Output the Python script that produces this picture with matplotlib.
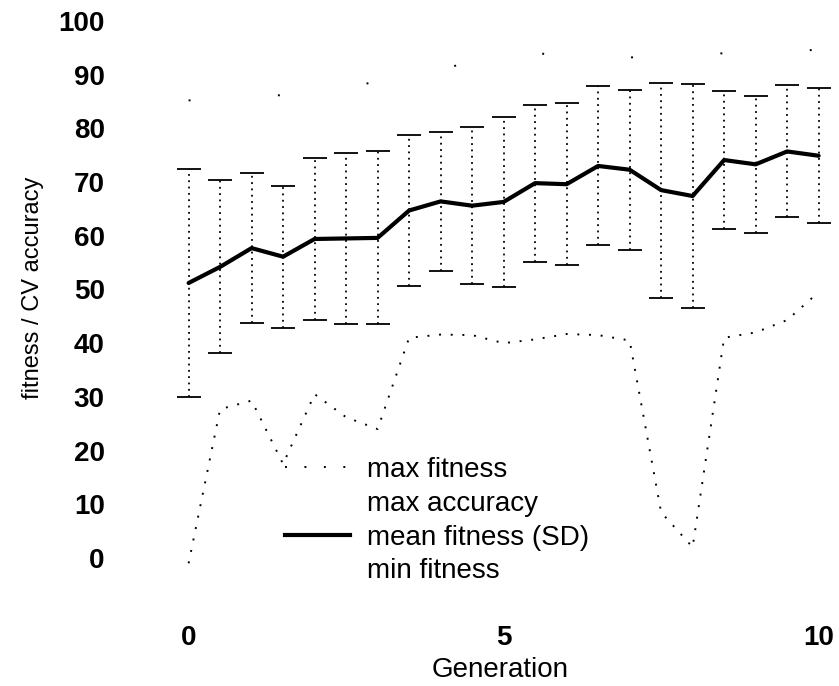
import matplotlib
matplotlib.use("Agg")
import matplotlib.pyplot as plt
from matplotlib.lines import Line2D

plt.rcParams['font.family'] = ['Liberation Sans', 'DejaVu Sans']

# generations (half-generation steps)
gen = [0, 0.5, 1, 1.5, 2, 2.5, 3, 3.5, 4, 4.5, 5,
       5.5, 6, 6.5, 7, 7.5, 8, 8.5, 9, 9.5, 10]

mean_fitness = [51.2, 54.2, 57.7, 56.1, 59.4, 59.5, 59.6, 64.7, 66.4, 65.6, 66.3,
                69.8, 69.6, 73.0, 72.3, 68.5, 67.4, 74.1, 73.3, 75.7, 74.9]
sd_fitness = [21.2, 16.1, 13.9, 13.2, 15.0, 16.0, 16.1, 14.1, 13.0, 14.6, 15.8,
              14.6, 15.1, 14.8, 14.9, 20.0, 20.8, 12.9, 12.8, 12.3, 12.6]
max_fitness = [85.2, 85.6, 85.9, 86.2, 86.8, 87.7, 88.7, 89.9, 91.1, 92.3, 93.6,
               94.2, 93.0, 92.8, 93.2, 93.5, 93.6, 94.0, 94.2, 94.5, 94.6]
min_fitness = [-1.0, 27.7, 29.3, 17.5, 30.5, 26.2, 24.0, 41.0, 41.6, 41.5, 40.0,
               40.7, 41.7, 41.5, 40.5, 8.5, 2.0, 41.0, 42.0, 44.3, 49.5]

fig = plt.figure(figsize=(8.39, 6.86), dpi=100)
ax = fig.add_axes([113 / 839, (686 - 617) / 686, (835 - 113) / 839, (617 - 15.6) / 686])

# max fitness: very sparse dotted line
ax.plot(gen, max_fitness, color='black', lw=1.4, linestyle=(0, (1, 45)))
# min fitness: dotted line
ax.plot(gen, min_fitness, color='black', lw=1.4, linestyle=(0, (1, 5)))
# mean fitness with SD bars
ax.plot(gen, mean_fitness, color='black', lw=3, solid_capstyle='round')
eb = ax.errorbar(gen, mean_fitness, yerr=sd_fitness, fmt='none', ecolor='black',
                 elinewidth=1.3, capsize=8.3, capthick=1.3)
eb[2][0].set_linestyle((0, (1, 2.5)))

ax.set_xlim(-1.2, 10.26)
ax.set_ylim(-11, 101)
ax.set_xticks([0, 5, 10])
ax.set_yticks([0, 10, 20, 30, 40, 50, 60, 70, 80, 90, 100])
ax.tick_params(length=0, labelsize=20, pad=6)
for lab in ax.get_xticklabels() + ax.get_yticklabels():
    lab.set_fontweight('bold')
for s in ax.spines.values():
    s.set_visible(False)

ax.set_xlabel('Generation', fontsize=20)
ax.xaxis.set_label_coords((500 - 113) / 722, -0.066)
ax.set_ylabel('fitness / CV accuracy', fontsize=17)
ax.yaxis.set_label_coords(-0.095, (617 - 288) / 601.4)

handles = [
    Line2D([], [], color='black', lw=1.4, linestyle=(0, (1, 9))),
    Line2D([], [], linestyle='none'),
    Line2D([], [], color='black', lw=3),
    Line2D([], [], linestyle='none'),
]
labels = ['max fitness', 'max accuracy', 'mean fitness (SD)', 'min fitness']
ax.legend(handles, labels, loc='upper left', bbox_to_anchor=(285 / 839, (686 - 457) / 686),
          bbox_transform=fig.transFigure, frameon=False, fontsize=20, borderpad=0,
          borderaxespad=0, handlelength=2.34, handletextpad=0.6, labelspacing=0.28)

fig.savefig('out.png', dpi=100)
